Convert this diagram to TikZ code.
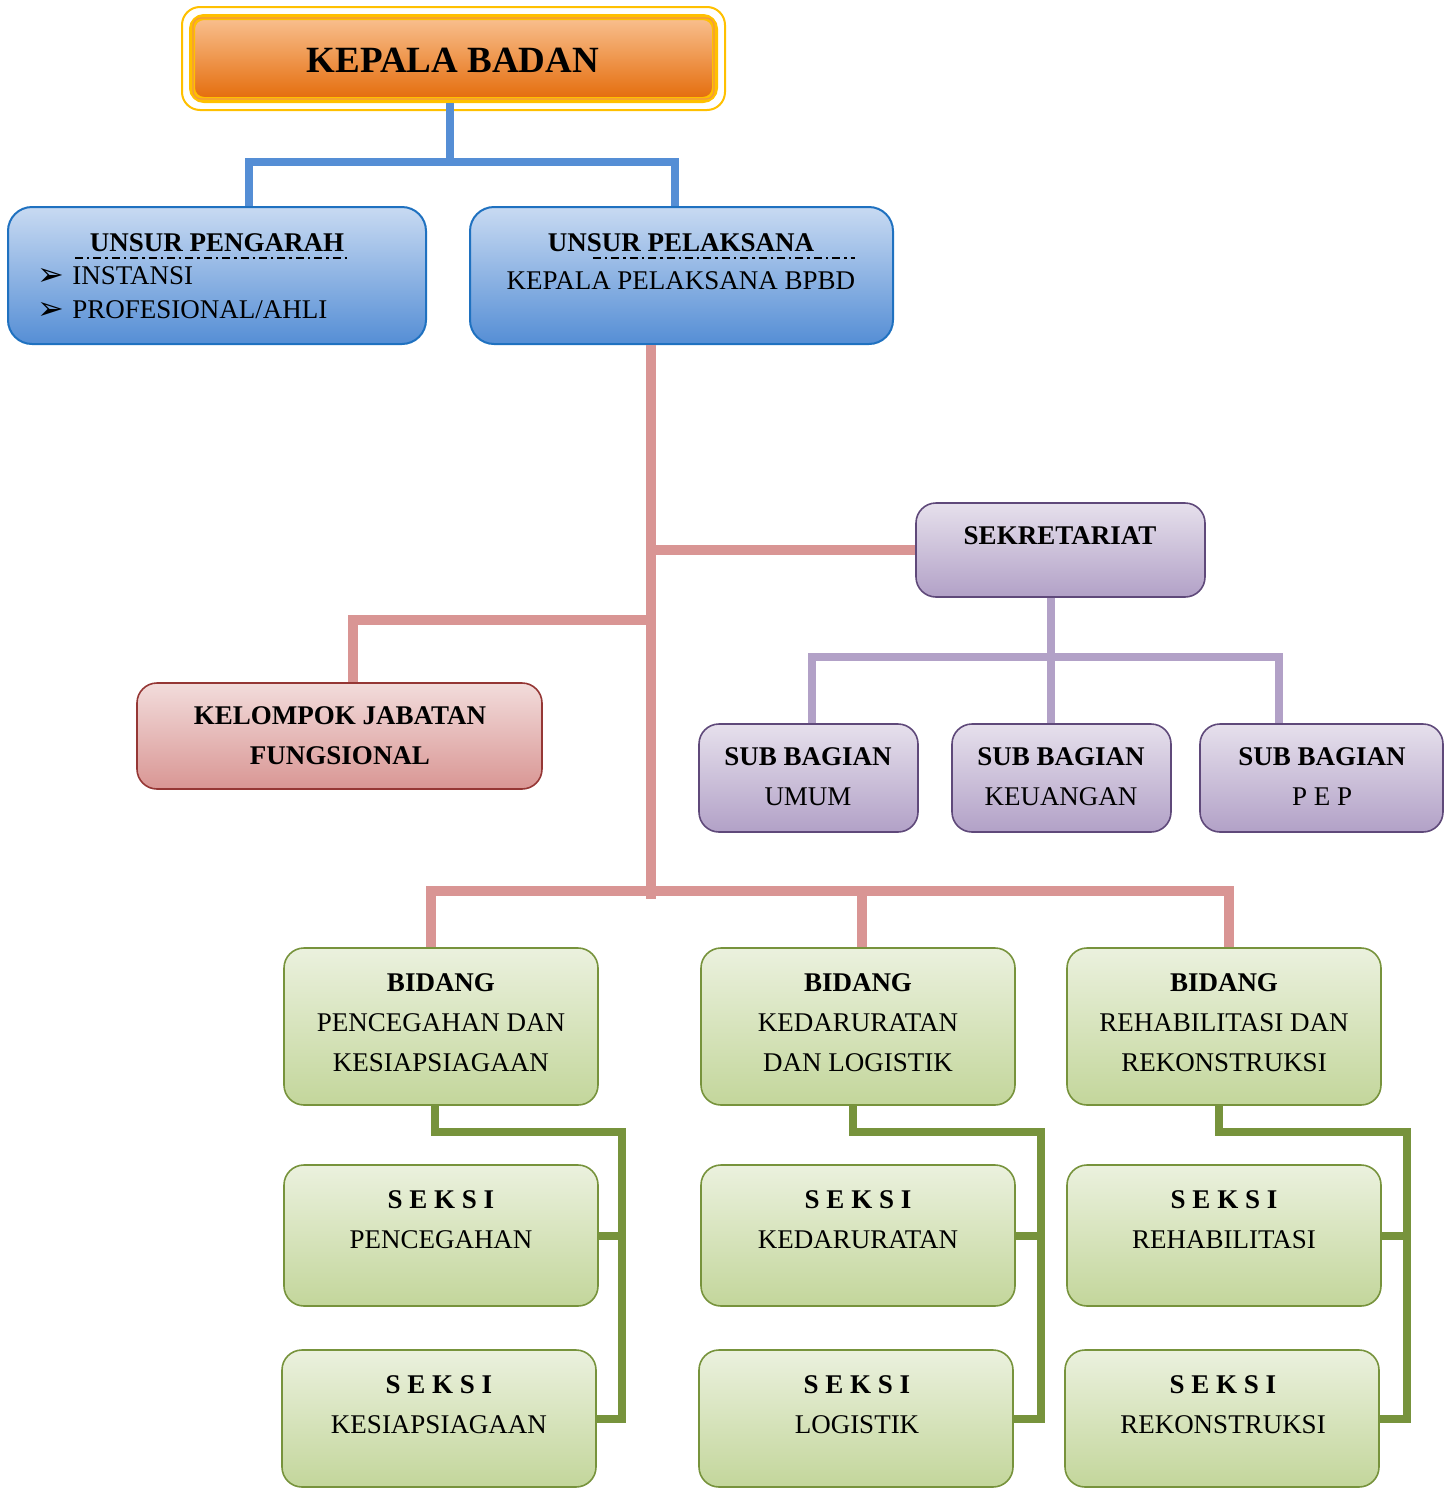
\documentclass[tikz,border=0pt]{standalone}
\usepackage{fontspec}
\setmainfont{Liberation Serif}
\newfontfamily\symfont{DejaVu Sans}
\definecolor{kbgold}{RGB}{255,192,0}
\definecolor{kbtop}{RGB}{249,192,144}
\definecolor{kbbot}{RGB}{228,108,10}
\definecolor{kbedge}{RGB}{240,150,70}
\definecolor{blutop}{RGB}{200,218,242}
\definecolor{blubot}{RGB}{85,142,213}
\definecolor{bluedge}{RGB}{31,113,192}
\definecolor{linkblue}{RGB}{85,142,213}
\definecolor{linkpink}{RGB}{217,149,148}
\definecolor{linkpurple}{RGB}{178,161,199}
\definecolor{purtop}{RGB}{230,224,236}
\definecolor{purbot}{RGB}{178,161,199}
\definecolor{puredge}{RGB}{95,73,122}
\definecolor{grntop}{RGB}{235,241,222}
\definecolor{grnbot}{RGB}{195,214,155}
\definecolor{grnedge}{RGB}{119,147,60}
\definecolor{redtop}{RGB}{242,220,219}
\definecolor{redbot}{RGB}{217,150,148}
\definecolor{rededge}{RGB}{149,55,53}

\begin{document}
\begin{tikzpicture}[x=0.5pt, y=-0.5pt, font=\fontsize{13.5}{20}\selectfont,
  box/.style={inner sep=0pt, line width=0.8pt, rounded corners=10pt},
  headbox/.style={box, draw=kbgold, line width=3pt, top color=kbtop, bottom color=kbbot, rounded corners=6pt, minimum width=261.5pt, minimum height=41.5pt},
  bluebox/.style={box, draw=bluedge, top color=blutop, bottom color=blubot, line width=1pt, rounded corners=12pt, minimum height=68.5pt},
  purplebox/.style={box, draw=puredge, top color=purtop, bottom color=purbot, minimum height=54pt},
  redbox/.style={box, draw=rededge, top color=redtop, bottom color=redbot, minimum width=202.5pt, minimum height=53pt},
  greenbox/.style={box, draw=grnedge, top color=grntop, bottom color=grnbot, minimum width=157pt},
  txt/.style={align=center, inner sep=0pt},
  bluelink/.style={draw=linkblue, line width=4pt},
  pinklink/.style={draw=linkpink, line width=5pt},
  purplelink/.style={draw=linkpurple, line width=4pt},
  greenlink/.style={draw=grnedge, line width=4pt},
  underln/.style={line width=0.7pt, dash pattern=on 4pt off 2pt on 1.2pt off 2pt}]
   \useasboundingbox (0,0) rectangle (1454,1489);
   % top
   \node[headbox] (kb) at (453.5,58.5) {};
   \draw[kbgold, line width=1pt, rounded corners=9pt] ([shift={(-3.5pt,3.5pt)}]kb.north west) rectangle ([shift={(3.5pt,-3.5pt)}]kb.south east);
   \draw[kbedge, line width=0.6pt, rounded corners=4pt] ([shift={(2pt,-2pt)}]kb.north west) rectangle ([shift={(-2pt,2pt)}]kb.south east);
   \node[txt, font=\fontsize{18.5}{22}\selectfont\bfseries] (kb-t) at (453,60) {KEPALA BADAN};
   \node[bluebox, minimum width=209pt] (pengarah) at (217,275.5) {};
   \node[bluebox, minimum width=211.5pt] (pelaksana) at (681.5,275.5) {};
   \node[txt, font=\fontsize{13.5}{20}\selectfont\bfseries] (pengarah-h) at (217,243) {UNSUR PENGARAH};
   \draw[underln] (75,258) -- (350,258);
   \node[txt, anchor=west, align=left, font=\fontsize{13.5}{17}\selectfont] (pengarah-l) at (37,293)
     {\makebox[17.5pt][l]{\raisebox{-0.5pt}{\symfont\fontsize{16}{16}\selectfont ➢}}INSTANSI\\\makebox[17.5pt][l]{\raisebox{-0.5pt}{\symfont\fontsize{16}{16}\selectfont ➢}}PROFESIONAL/AHLI};
   \node[txt, font=\fontsize{13.5}{20}\selectfont\bfseries] (pelaksana-h) at (681,243) {UNSUR PELAKSANA};
   \draw[underln] (593,258) -- (855,258);
   \node[txt] (pelaksana-t) at (681,281) {KEPALA PELAKSANA BPBD};
   \coordinate (bj) at (450,162);
   \draw[bluelink] (kb.south -| bj) -- (bj);
   \draw[bluelink] ([xshift=16pt]pengarah.north) |- (bj) -| ([xshift=-3.25pt]pelaksana.north);
   % middle
   \node[purplebox, minimum width=144.5pt, minimum height=47pt] (sekretariat) at (1060.5,550) {};
   \node[txt, font=\fontsize{13.5}{20}\selectfont\bfseries] (sekretariat-t) at (1060,536) {SEKRETARIAT};
   \node[redbox] (kelompok) at (339.5,736) {};
   \node[txt, font=\fontsize{13.5}{20}\selectfont\bfseries] (kelompok-t) at (340,736) {KELOMPOK JABATAN\\FUNGSIONAL};
   \node[purplebox, minimum width=109.5pt] (umum) at (808.5,778) {};
   \node[purplebox, minimum width=109.5pt] (keuangan) at (1061.5,778) {};
   \node[purplebox, minimum width=121.5pt] (pep) at (1321.5,778) {};
   \node[txt] (umum-t) at (808,777) {\textbf{SUB BAGIAN}\\UMUM};
   \node[txt] (keuangan-t) at (1061,777) {\textbf{SUB BAGIAN}\\KEUANGAN};
   \node[txt] (pep-t) at (1322,777) {\textbf{SUB BAGIAN}\\P E P};
   % bidang
   \node[greenbox, minimum height=78.5pt] (bpk) at (441,1026.5) {};
   \node[greenbox, minimum height=78.5pt] (bdl) at (858,1026.5) {};
   \node[greenbox, minimum height=78.5pt] (brr) at (1224,1026.5) {};
   \node[txt] (bpk-t) at (441,1023) {\textbf{BIDANG}\\PENCEGAHAN DAN\\KESIAPSIAGAAN};
   \node[txt] (bdl-t) at (858,1023) {\textbf{BIDANG}\\KEDARURATAN\\DAN LOGISTIK};
   \node[txt] (brr-t) at (1224,1023) {\textbf{BIDANG}\\REHABILITASI DAN\\REKONSTRUKSI};
   % seksi
   \node[greenbox, minimum height=70.5pt] (spc) at (441,1235.5) {};
   \node[greenbox, minimum height=70.5pt] (skd) at (858,1235.5) {};
   \node[greenbox, minimum height=70.5pt] (srh) at (1224,1235.5) {};
   \node[greenbox, minimum height=68.5pt] (ssg) at (439,1418.5) {};
   \node[greenbox, minimum height=68.5pt] (slg) at (856,1418.5) {};
   \node[greenbox, minimum height=68.5pt] (srk) at (1222,1418.5) {};
   \node[txt] (spc-t) at (441,1220) {\textbf{S E K S I}\\PENCEGAHAN};
   \node[txt] (skd-t) at (858,1220) {\textbf{S E K S I}\\KEDARURATAN};
   \node[txt] (srh-t) at (1224,1220) {\textbf{S E K S I}\\REHABILITASI};
   \node[txt] (ssg-t) at (439,1405) {\textbf{S E K S I}\\KESIAPSIAGAAN};
   \node[txt] (slg-t) at (857,1405) {\textbf{S E K S I}\\LOGISTIK};
   \node[txt] (srk-t) at (1223,1405) {\textbf{S E K S I}\\REKONSTRUKSI};
   % pink lines
   \coordinate (pt) at (651,891);
   \coordinate (kj) at (651,620);
   \draw[pinklink] ([xshift=-15.25pt]pelaksana.south) -- ([yshift=-4pt]pt);
   \draw[pinklink] (sekretariat.west) -- (sekretariat.west -| pt);
   \draw[pinklink] ([xshift=6.75pt]kelompok.north) |- (kj);
   \draw[pinklink] ([xshift=-5pt]bpk.north) |- (pt) -| ([xshift=2.5pt]brr.north);
   \draw[pinklink] ([xshift=2pt]bdl.north) -- ([xshift=2pt]bdl.north |- pt);
   % purple lines
   \coordinate (sj) at (1051,657);
   \draw[purplelink] ([xshift=-4.75pt]sekretariat.south) -- ([xshift=-5.25pt]keuangan.north);
   \draw[purplelink] ([xshift=1.75pt]umum.north) |- (sj) -| ([xshift=-21.25pt]pep.north);
   % green lines
   \coordinate (rail1) at (622,1132);
   \coordinate (rail2) at (1041,1132);
   \coordinate (rail3) at (1407,1132);
   \draw[greenlink] ([xshift=-3pt]bpk.south) |- (rail1) |- (ssg.east);
   \draw[greenlink] (spc.east) -- (spc.east -| rail1);
   \draw[greenlink] ([xshift=-2.5pt]bdl.south) |- (rail2) |- (slg.east);
   \draw[greenlink] (skd.east) -- (skd.east -| rail2);
   \draw[greenlink] ([xshift=-2.5pt]brr.south) |- (rail3) |- (srk.east);
   \draw[greenlink] (srh.east) -- (srh.east -| rail3);
\end{tikzpicture}
\end{document}
